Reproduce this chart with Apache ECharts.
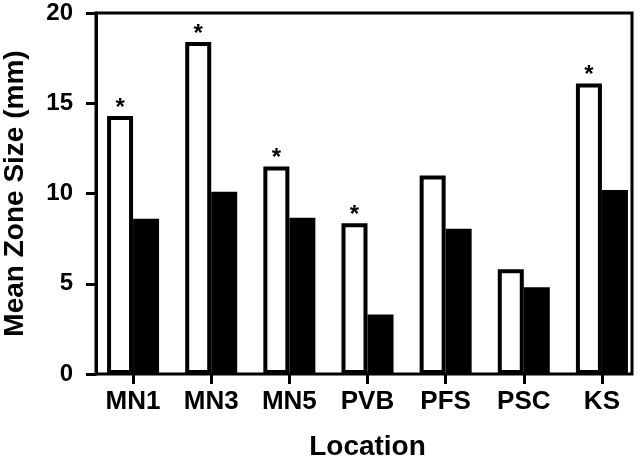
<!DOCTYPE html>
<html>
<head>
<meta charset="utf-8">
<script src="https://cdn.jsdelivr.net/npm/echarts@6/dist/echarts.min.js"></script>
<style>html,body{margin:0;padding:0;background:#fff}#c{width:643px;height:457px}</style>
</head>
<body>
<div id="c"></div>
<script>
const categories = ['MN1', 'MN3', 'MN5', 'PVB', 'PFS', 'PSC', 'KS'];
const whiteValues = [14.3, 18.4, 11.5, 8.35, 11.0, 5.8, 16.1];
const blackValues = [8.6, 10.1, 8.65, 3.3, 8.05, 4.8, 10.2];
const starred = [true, true, true, true, false, false, true];
const yTicks = [0, 5, 10, 15, 20];

const FONT = '"Liberation Sans", Arial, sans-serif';
const chart = echarts.init(document.getElementById('c'));
const whiteData = whiteValues.map((v, i) => ({
  value: v,
  label: { show: starred[i] }
}));
chart.setOption({
  animation: false,
  grid: [
    { left: 96, right: 11, top: 13, bottom: 83, show: true, borderColor: '#000', borderWidth: 3, backgroundColor: 'transparent', containLabel: false, outerBoundsMode: 'none' },
    { left: 94, width: 547, top: 13, bottom: 83, containLabel: false, outerBoundsMode: 'none' }
  ],
  xAxis: [
    { gridIndex: 0, type: 'value', min: 0, max: 1, show: false },
    {
      gridIndex: 1, type: 'category', data: categories,
      axisLine: { show: false },
      axisTick: { show: true, alignWithLabel: true, length: 10, lineStyle: { color: '#000', width: 3 } },
      axisLabel: { color: '#000', fontFamily: FONT, fontWeight: 'bold', fontSize: 26, margin: 15 },
      name: 'Location', nameLocation: 'middle', nameGap: 59,
      nameTextStyle: { color: '#000', fontFamily: FONT, fontWeight: 'bold', fontSize: 28 }
    }
  ],
  yAxis: [
    {
      gridIndex: 0, type: 'value', min: yTicks[0], max: yTicks[yTicks.length - 1], interval: 5,
      splitLine: { show: false },
      axisLine: { show: true, lineStyle: { color: '#000', width: 3 } },
      axisTick: { show: true, length: 10, lineStyle: { color: '#000', width: 3 } },
      axisLabel: { color: '#000', fontFamily: FONT, fontWeight: 'bold', fontSize: 24, margin: 23 },
      name: 'Mean Zone Size (mm)', nameLocation: 'middle', nameGap: 67,
      nameTextStyle: { color: '#000', fontFamily: FONT, fontWeight: 'bold', fontSize: 28 }
    },
    { gridIndex: 1, type: 'value', min: 0, max: 20, show: false }
  ],
  series: [
    {
      type: 'bar', xAxisIndex: 1, yAxisIndex: 1, data: whiteData,
      barWidth: 26, barGap: '0%',
      itemStyle: { color: '#fff', borderColor: '#000', borderWidth: 4 },
      label: { show: false, position: 'top', formatter: '*', distance: -4, color: '#000', fontFamily: FONT, fontWeight: 'bold', fontSize: 24 }
    },
    {
      type: 'bar', xAxisIndex: 1, yAxisIndex: 1, data: blackValues,
      barWidth: 26,
      itemStyle: { color: '#000', borderColor: '#000', borderWidth: 4 }
    }
  ]
});
</script>
</body>
</html>
